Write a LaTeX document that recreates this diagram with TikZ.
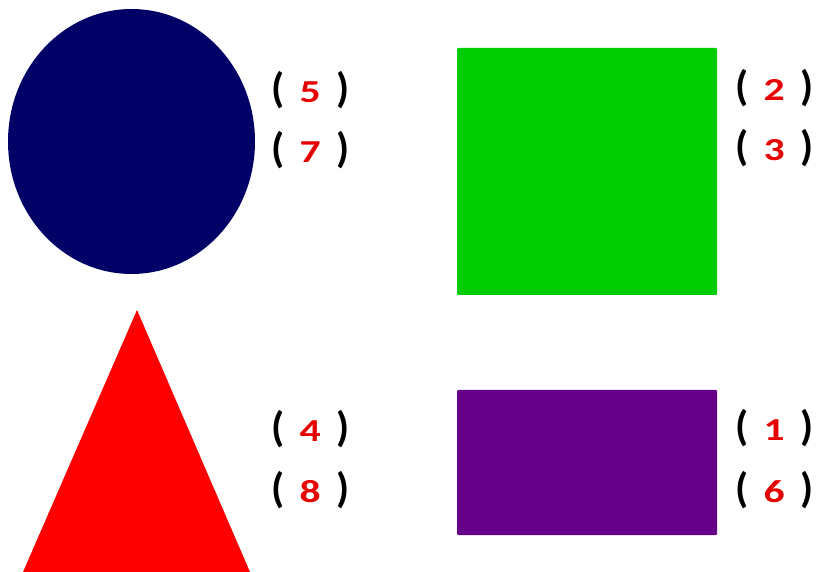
\documentclass[tikz,border=0pt]{standalone}
\usepackage{fontspec}
\setmainfont{Carlito}
\usepackage{xcolor}
\usepackage{graphicx}
\usepackage{tikz}
\usetikzlibrary{shapes.geometric}
\definecolor{cNavy}{HTML}{000066}
\definecolor{cGreen}{HTML}{00CC00}
\definecolor{cRed}{HTML}{FF0000}
\definecolor{cPurple}{HTML}{660088}
\definecolor{cNum}{HTML}{E60000}
\tikzset{
  solid/.style={fill=#1, draw=none, inner sep=0pt, outer sep=0pt},
  blockshape/.style={solid=#1, rectangle, rounded corners=1pt},
  lbl/.style={anchor=west, inner sep=0pt, font=\fontsize{42}{42}\selectfont\bfseries,
              text=black},
}
\newcommand{\num}[1]{(\makebox[52pt][c]{\fontsize{32}{32}\selectfont\color{cNum}\scalebox{1.3}[1]{#1}})}

\begin{document}
\begin{tikzpicture}[x=1pt, y=-1pt]
  \useasboundingbox (0,0) rectangle (823,572);
  % shapes
  \node[solid=cNavy, ellipse, minimum width=247pt, minimum height=265pt] (circ) at (131.5,141.5) {};
  \fill[cRed] (137,310) -- (250,572) -- (23,572) -- cycle;
  \node[blockshape=cGreen, minimum width=260pt, minimum height=247pt] (sq) at (587,171.5) {};
  \node[blockshape=cPurple, minimum width=260pt, minimum height=145pt] (rect) at (587,462.5) {};

  % labels
  \node[lbl] (c1) at (271,90) {\num{5}};
  \node[lbl] (c2) at (271,150) {\num{7}};
  \node[lbl] (s1) at (735,88) {\num{2}};
  \node[lbl] (s2) at (735,148) {\num{3}};
  \node[lbl] (t1) at (271,429) {\num{4}};
  \node[lbl] (t2) at (271,490) {\num{8}};
  \node[lbl] (r1) at (735,428) {\num{1}};
  \node[lbl] (r2) at (735,490) {\num{6}};
\end{tikzpicture}
\end{document}
